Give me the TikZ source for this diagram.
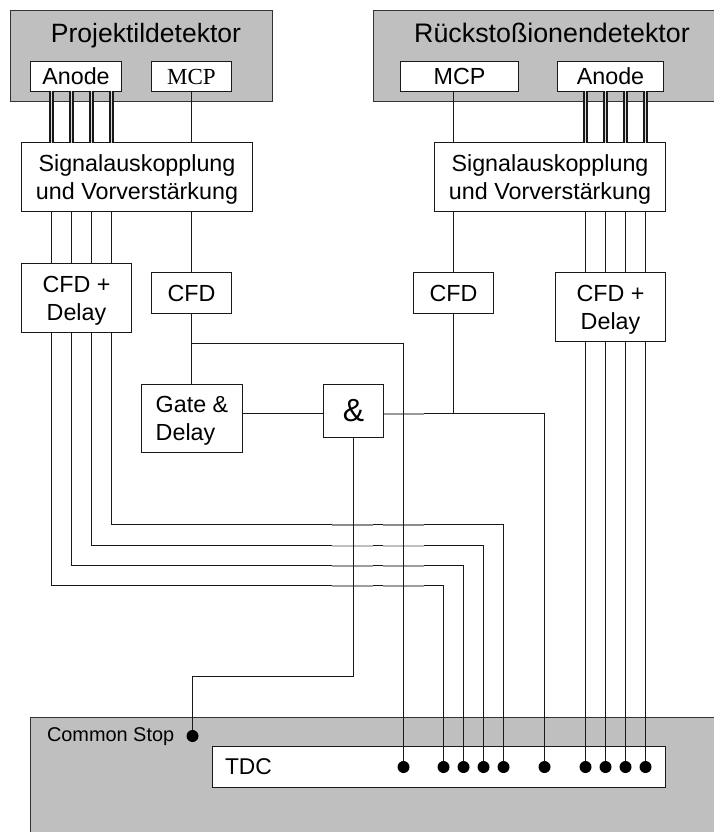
\documentclass[tikz,border=0pt]{standalone}
\usepackage{fontspec}
\setmainfont{Liberation Sans}
\newfontfamily\serifmcp{Liberation Serif}
\begin{document}
\begin{tikzpicture}[
    x=1pt, y=-1pt,
    box_style/.style={rectangle, draw=black!90, fill=white, line width=1.5pt, inner sep=0pt, outer sep=0pt, align=center, font=\fontsize{23.3}{28}\selectfont},
    two_line/.style={box_style, text depth=0pt},
    det_style/.style={rectangle, draw=black!80, fill=black!25, line width=1.5pt, inner sep=0pt, outer sep=0pt},
    sig/.style={draw=black!90, line width=1.5pt},
    pair/.style={draw=black!90, line width=1.8pt, double=black!15, double distance=1.8pt, xshift=-0.3pt},
    crossing/.style={line width=2pt},
    dot_style/.style={circle, fill=black, inner sep=0pt, minimum size=12pt},
    label_style/.style={inner sep=0pt, outer sep=0pt}
]
\useasboundingbox (0,0) rectangle (714,832);

% detectors
\node[det_style, minimum width=262, minimum height=91] (projdet) at (141.5,56) {};
\node[label_style, font=\fontsize{26.5}{30}\selectfont] (projtext) at (146,36) {Projektildetektor};
\node[box_style, minimum width=91, minimum height=30] (anodeL) at (76,76.5) {Anode};
\node[box_style, minimum width=80, minimum height=30, font=\serifmcp\fontsize{23}{28}\selectfont] (mcpL) at (191.5,76.5) {MCP};
\node[det_style, minimum width=346, minimum height=91] (recdet) at (546.5,56) {};
\node[label_style, font=\fontsize{26.8}{30}\selectfont] (rectext) at (552,33) {Rückstoßionendetektor};
\node[box_style, minimum width=118, minimum height=30] (mcpR) at (459.5,76.5) {MCP};
\node[box_style, minimum width=106, minimum height=30] (anodeR) at (610.5,76.5) {Anode};

% first stage
\node[two_line, minimum width=231, minimum height=69] (sigL) at (137,177) {Signalauskopplung\\und Vorverstärkung};
\node[two_line, minimum width=231, minimum height=69] (sigR) at (550,177) {Signalauskopplung\\und Vorverstärkung};
\node[two_line, minimum width=110, minimum height=69] (cfddelL) at (76.5,298) {CFD +\\Delay};
\node[box_style, minimum width=80, minimum height=41] (cfdL) at (191.5,293) {CFD};
\node[box_style, minimum width=80, minimum height=41] (cfdR) at (453.5,293) {CFD};
\node[two_line, minimum width=110, minimum height=69] (cfddelR) at (610.5,307) {CFD +\\Delay};
\node[two_line, minimum width=101, minimum height=68, align=left] (gate) at (192,418.5) {Gate \&\\Delay};
\node[box_style, minimum width=60, minimum height=53, font=\fontsize{32}{32}\selectfont] (and) at (353.5,411) {\&};

% tdc
\node[det_style, minimum width=690, minimum height=122, anchor=north west] (crate) at (30.5,717.5) {};
\node[box_style, minimum width=453, minimum height=41, anchor=north west] (tdc) at (212.5,746.5) {};
\node[label_style, font=\fontsize{22.8}{26}\selectfont, anchor=west] (tdctext) at (225,767) {TDC};
\node[label_style, font=\fontsize{19.9}{24}\selectfont, anchor=west] (stoptext) at (47,737) {Common Stop};
\node[dot_style] (stop) at (192.5,736) {};
\foreach \name/\px in {t1/403.5, t2/443.5, t3/463.5, t4/483.5, t5/503.5, t6/544.5, t7/585.5, t8/605.5, t9/625.5, t10/645.5}
    \node[dot_style] (\name) at (\px,767) {};

% columns and bends
\foreach \name/\px in {l1/51.5, l2/71.5, l3/91.5, l4/111.5, g1/332, g2/373, g3/383, g4/424}
    \coordinate (\name) at (\px,0);
\coordinate (b1) at (403.5,343.5);
\coordinate (b2) at (443.5,585.5);
\coordinate (b3) at (463.5,565.5);
\coordinate (b4) at (483.5,545.5);
\coordinate (b5) at (503.5,524.5);
\coordinate (b6) at (544.5,413.5);
\coordinate (stopbend) at (353.5,676.5);

% anode pairs
\foreach \col in {l1,l2,l3,l4} {
    \draw[pair] (\col |- anodeL.south) -- (\col |- sigL.north);
    \draw[sig] (\col |- sigL.south) -- (\col |- cfddelL.north);
}
\foreach \col in {t7,t8,t9,t10} {
    \draw[pair] (\col |- anodeR.south) -- (\col |- sigR.north);
    \draw[sig] (\col |- sigR.south) -- (\col |- cfddelR.north);
    \draw[sig] (\col |- cfddelR.south) -- (\col);
}

% position lines
\draw[sig] (l1 |- cfddelL.south) |- (b2) -- (t2);
\draw[sig] (l2 |- cfddelL.south) |- (b3) -- (t3);
\draw[sig] (l3 |- cfddelL.south) |- (b4) -- (t4);
\draw[sig] (l4 |- cfddelL.south) |- (b5) -- (t5);
\draw[sig] (and.east |- b6) -- (b6) -- (t6);

% crossings
\foreach \bend/\tone in {b2/38, b3/38, b4/25, b5/45} {
    \draw[crossing, draw=black!\tone] (g1 |- \bend) -- (g2 |- \bend);
    \draw[crossing, draw=black!\tone] (g3 |- \bend) -- (g4 |- \bend);
}
\draw[crossing, draw=black!40] (and.east |- b6) -- (g4 |- b6);

% timing lines
\draw[sig] (mcpL.south) -- (sigL.north -| mcpL.south);
\draw[sig] (sigL.south -| mcpL.south) -- (cfdL.north);
\draw[sig] (cfdL.south) -- (gate.north -| cfdL.south);
\draw[sig] (cfdL.south |- b1) -- (b1) -- (t1);
\draw[sig] (gate.east |- b6) -- (and.west |- b6);
\draw[sig] (mcpR.south -| cfdR.north) -- (sigR.north -| cfdR.north);
\draw[sig] (sigR.south -| cfdR.north) -- (cfdR.north);
\draw[sig] (cfdR.south) -- (cfdR.south |- b6);
\draw[sig] (and.south) -- (stopbend) -| (stop);
\end{tikzpicture}
\end{document}
